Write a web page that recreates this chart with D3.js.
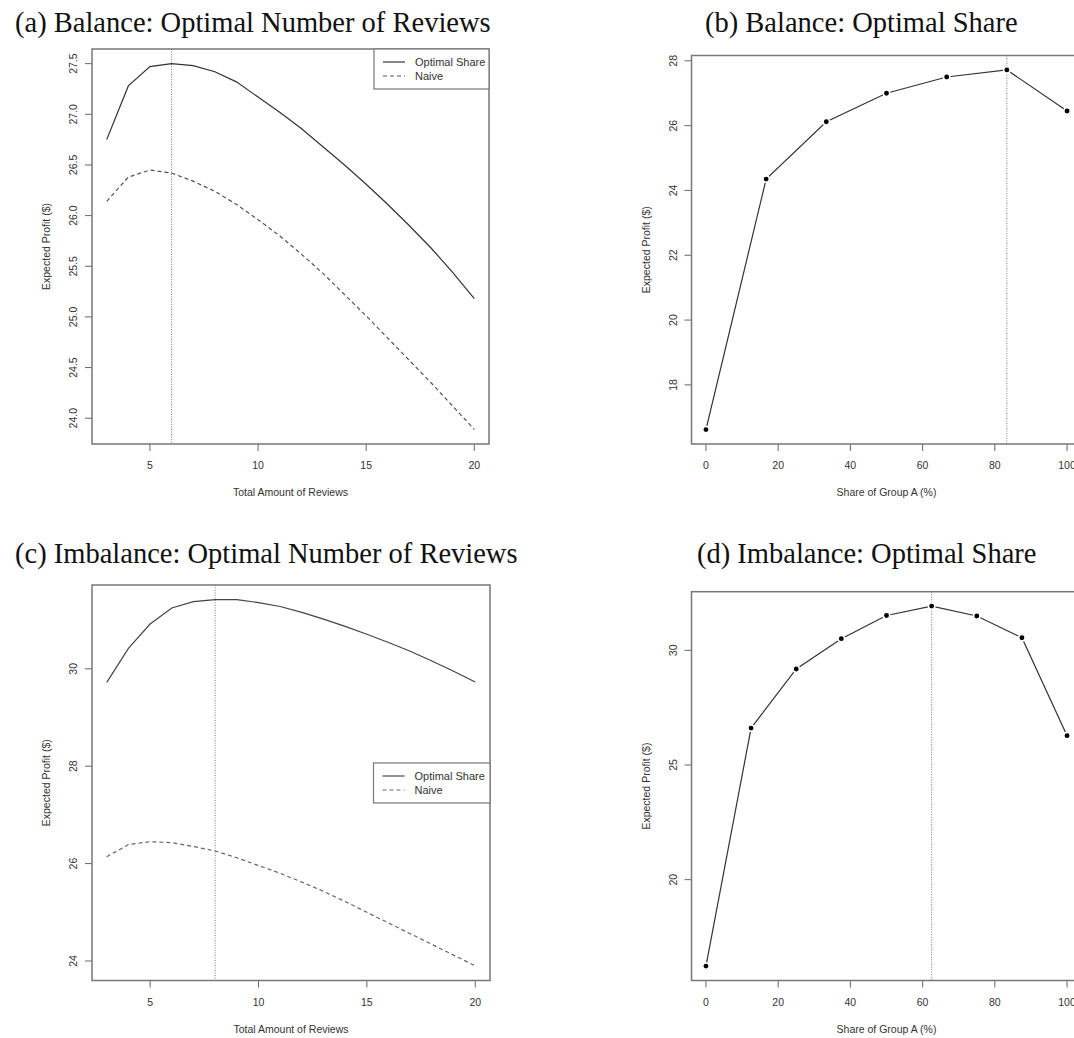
<!DOCTYPE html>
<html>
<head>
<meta charset="utf-8">
<script src="https://cdn.jsdelivr.net/npm/d3@7"></script>
<style>
  body { margin: 0; background: #fff; }
  svg { display: block; }
  .title { font-family: "Liberation Serif", "Times New Roman", serif; font-size: 28.5px; fill: #111; }
  .tick-label, .axis-label, .legend-text { font-family: "Liberation Sans", Arial, sans-serif; fill: #333; }
</style>
</head>
<body>
<div id="chart"></div>
<script>
// Number of reviews (x for panels a, c)
const reviewCounts = [3, 4, 5, 6, 7, 8, 9, 10, 11, 12, 13, 14, 15, 16, 17, 18, 19, 20];
// Panel (a) balance
const balOptimal = [26.75, 27.28, 27.47, 27.50, 27.48, 27.42, 27.32, 27.17, 27.02, 26.86, 26.68, 26.50, 26.31, 26.11, 25.90, 25.68, 25.44, 25.18];
const balNaive   = [26.14, 26.38, 26.45, 26.42, 26.34, 26.24, 26.11, 25.96, 25.80, 25.62, 25.43, 25.22, 25.01, 24.79, 24.57, 24.35, 24.12, 23.89];
// Panel (c) imbalance
const imbOptimal = [29.72, 30.42, 30.92, 31.25, 31.38, 31.42, 31.42, 31.36, 31.28, 31.16, 31.02, 30.87, 30.71, 30.54, 30.36, 30.16, 29.95, 29.73];
const imbNaive   = [26.14, 26.39, 26.45, 26.43, 26.35, 26.26, 26.12, 25.96, 25.80, 25.62, 25.43, 25.22, 25.00, 24.78, 24.56, 24.34, 24.12, 23.90];
// Panels (b), (d): share of group A
const balShares = [0, 16.67, 33.33, 50, 66.67, 83.33, 100];
const balShareProfit = [16.62, 24.35, 26.12, 27.00, 27.50, 27.72, 26.45];
const imbShares = [0, 12.5, 25, 37.5, 50, 62.5, 75, 87.5, 100];
const imbShareProfit = [16.23, 26.61, 29.19, 30.51, 31.52, 31.93, 31.50, 30.55, 26.28];
// Optimum markers
const balBestN = 6, imbBestN = 8, balBestShare = 83.33, imbBestShare = 62.5;
// Ticks
const reviewTicks = [5, 10, 15, 20];
const shareTicks = [0, 20, 40, 60, 80, 100];
const yTicksA = [24.0, 24.5, 25.0, 25.5, 26.0, 26.5, 27.0, 27.5];
const yTicksB = [18, 20, 22, 24, 26, 28];
const yTicksC = [24, 26, 28, 30];
const yTicksD = [20, 25, 30];
const legendLabels = ["Optimal Share", "Naive"];

const width = 1074, height = 1038;
const svg = d3.select("#chart").append("svg")
  .attr("width", width).attr("height", height);

// R-style 4% padding of the data range
function padded(vals) {
  const [lo, hi] = d3.extent(vals);
  const p = (hi - lo) * 0.04;
  return [lo - p, hi + p];
}

function drawPanel(cfg) {
  const x = d3.scaleLinear().domain(padded(cfg.xVals)).range([cfg.left, cfg.right]);
  const y = d3.scaleLinear().domain(padded(cfg.series.flatMap(s => s.values))).range([cfg.bottom, cfg.top]);

  svg.append("text").attr("class", "title")
    .attr("x", cfg.titleX).attr("y", cfg.titleY).text(cfg.title);

  const g = svg.append("g");

  // x axis ticks
  const xa = g.append("g").attr("transform", `translate(0,${cfg.bottom})`);
  cfg.xTicks.forEach(t => {
    xa.append("line").attr("x1", x(t)).attr("x2", x(t)).attr("y1", 0).attr("y2", 7)
      .attr("stroke", "#666").attr("stroke-width", 1);
    xa.append("text").attr("class", "tick-label")
      .attr("x", x(t)).attr("y", 25).attr("text-anchor", "middle")
      .style("font-size", "10.5px").text(t);
  });
  // y axis ticks (rotated labels like R)
  cfg.yTicks.forEach(t => {
    g.append("line").attr("x1", cfg.left - 7).attr("x2", cfg.left).attr("y1", y(t)).attr("y2", y(t))
      .attr("stroke", "#666").attr("stroke-width", 1);
    g.append("text").attr("class", "tick-label")
      .attr("transform", `translate(${cfg.left - 15},${y(t)}) rotate(-90)`)
      .attr("text-anchor", "middle")
      .style("font-size", "10.5px").text(cfg.yFmt(t));
  });

  // axis labels
  g.append("text").attr("class", "axis-label")
    .attr("x", (cfg.left + cfg.right) / 2).attr("y", cfg.bottom + 52)
    .attr("text-anchor", "middle").style("font-size", "10.5px").text(cfg.xLabel);
  g.append("text").attr("class", "axis-label")
    .attr("transform", `translate(${cfg.left - 42},${(cfg.top + cfg.bottom) / 2}) rotate(-90)`)
    .attr("text-anchor", "middle").style("font-size", "10.5px").text("Expected Profit ($)");

  // optimum marker
  g.append("line")
    .attr("x1", x(cfg.best)).attr("x2", x(cfg.best))
    .attr("y1", cfg.top).attr("y2", cfg.bottom)
    .attr("stroke", "#777").attr("stroke-width", 1).attr("stroke-dasharray", "1,1.5");

  // series
  cfg.series.forEach(s => {
    const pts = cfg.xVals.map((v, i) => [v, s.values[i]]);
    g.append("path").datum(pts)
      .attr("fill", "none").attr("stroke", s.color).attr("stroke-width", 1.2)
      .attr("stroke-dasharray", s.dash || null)
      .attr("d", d3.line().x(d => x(d[0])).y(d => y(d[1])));
    if (s.points) {
      g.selectAll(null).data(pts).enter().append("circle")
        .attr("cx", d => x(d[0])).attr("cy", d => y(d[1])).attr("r", 3.2)
        .attr("fill", "#000").attr("stroke", "#fff").attr("stroke-width", 1.5);
    }
  });

  // box
  g.append("rect").attr("x", cfg.left).attr("y", cfg.top)
    .attr("width", cfg.right - cfg.left).attr("height", cfg.bottom - cfg.top)
    .attr("fill", "none").attr("stroke", "#777").attr("stroke-width", 1.5);

  // legend
  if (cfg.legend) {
    const L = cfg.legend;
    const lg = g.append("g");
    lg.append("rect").attr("x", L.x).attr("y", L.y).attr("width", cfg.right - L.x).attr("height", 40)
      .attr("fill", "#fff").attr("stroke", "#777").attr("stroke-width", 1.2);
    cfg.series.forEach((s, i) => {
      const cy = L.y + 13 + i * 14;
      lg.append("line").attr("x1", L.x + 9).attr("x2", L.x + 31).attr("y1", cy).attr("y2", cy)
        .attr("stroke", s.color).attr("stroke-width", 1.2).attr("stroke-dasharray", s.dash || null);
      lg.append("text").attr("class", "legend-text")
        .attr("x", L.x + 41).attr("y", cy + 4).style("font-size", "11px").text(legendLabels[i]);
    });
  }
}

const fmt1 = d3.format(".1f");
const fmt0 = d => String(d);

drawPanel({
  title: "(a) Balance: Optimal Number of Reviews", titleX: 15, titleY: 32,
  left: 92, right: 489, top: 49, bottom: 444,
  xVals: reviewCounts, xTicks: reviewTicks, yTicks: yTicksA, yFmt: fmt1,
  xLabel: "Total Amount of Reviews", best: balBestN,
  series: [
    { values: balOptimal, color: "#333" },
    { values: balNaive, color: "#555", dash: "4,3" }
  ],
  legend: { x: 374, y: 49 }
});

drawPanel({
  title: "(b) Balance: Optimal Share", titleX: 705, titleY: 32,
  left: 691.5, right: 1081.5, top: 55.5, bottom: 444,
  xVals: balShares, xTicks: shareTicks, yTicks: yTicksB, yFmt: fmt0,
  xLabel: "Share of Group A (%)", best: balBestShare,
  series: [{ values: balShareProfit, color: "#333", points: true }]
});

drawPanel({
  title: "(c) Imbalance: Optimal Number of Reviews", titleX: 15, titleY: 563,
  left: 92, right: 490, top: 585, bottom: 980.5,
  xVals: reviewCounts, xTicks: reviewTicks, yTicks: yTicksC, yFmt: fmt0,
  xLabel: "Total Amount of Reviews", best: imbBestN,
  series: [
    { values: imbOptimal, color: "#444" },
    { values: imbNaive, color: "#666", dash: "4,3" }
  ],
  legend: { x: 373.5, y: 763 }
});

drawPanel({
  title: "(d) Imbalance: Optimal Share", titleX: 697, titleY: 563,
  left: 691.5, right: 1081.5, top: 591.7, bottom: 980.5,
  xVals: imbShares, xTicks: shareTicks, yTicks: yTicksD, yFmt: fmt0,
  xLabel: "Share of Group A (%)", best: imbBestShare,
  series: [{ values: imbShareProfit, color: "#333", points: true }]
});
</script>
</body>
</html>
